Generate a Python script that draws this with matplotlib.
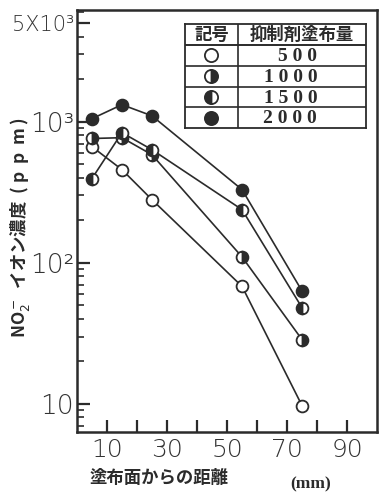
"""
NO2- イオン濃度と塗布面からの距離（抑制剤塗布量別）
"""

import matplotlib
matplotlib.use("Agg")
import matplotlib.pyplot as plt
from matplotlib.ticker import FixedLocator, LogLocator, NullFormatter

JP = ["Noto Sans CJK JP", "DejaVu Sans"]
SERIF = ["Liberation Serif", "DejaVu Serif"]
INK = "#2b2b2b"

# 塗布面からの距離 (mm)
kyori = [5, 15, 25, 55, 75]

# 抑制剤塗布量ごとの NO2- 濃度 (ppm)
no2_500 = [665, 457, 280, 68, 9.7]
no2_1000 = [760, 770, 583, 110, 28.5]
no2_1500 = [395, 836, 633, 238, 48]
no2_2000 = [1050, 1320, 1100, 330, 63]

ryo_labels = ["5 0 0", "1 0 0 0", "1 5 0 0", "2 0 0 0"]

x_ticks = [10, 20, 30, 40, 50, 60, 70, 80, 90]
x_ticklabels = ["10", "", "30", "", "50", "", "70", "", "90"]
y_ticks = [10, 100, 1000, 5000]
y_ticklabels = ["10", "10²", "10³", "5X10³"]

# 記号: 白丸, 右半分黒, 左半分黒, 黒丸
STIL = [
    dict(marker="o", markerfacecolor="white"),
    dict(marker="o", markerfacecolor=INK, fillstyle="right", markerfacecoloralt="white"),
    dict(marker="o", markerfacecolor=INK, fillstyle="left", markerfacecoloralt="white"),
    dict(marker="o", markerfacecolor=INK),
]


def main():
    fig = plt.figure(figsize=(3.79, 4.95), dpi=100)
    ax = fig.add_axes([0.203, 0.127, 0.792, 0.853])

    serier = [no2_500, no2_1000, no2_1500, no2_2000]
    for verdier, stil in zip(serier, STIL):
        ax.plot(kyori, verdier, color=INK, linewidth=1.2, markersize=8.5,
                markeredgecolor=INK, markeredgewidth=1.3, **stil)

    ax.set_yscale("log")
    ax.set_xlim(0, 100)
    ax.set_ylim(6.3, 6200)

    ax.xaxis.set_major_locator(FixedLocator(x_ticks))
    ax.set_xticklabels(x_ticklabels)
    ax.yaxis.set_major_locator(FixedLocator(y_ticks))
    ax.set_yticklabels(y_ticklabels)
    ax.yaxis.set_minor_locator(LogLocator(base=10, subs=range(2, 10)))
    ax.yaxis.set_minor_formatter(NullFormatter())

    ax.tick_params(axis="both", which="major", direction="in", length=9, width=1.6,
                   colors=INK, pad=3)
    ax.tick_params(axis="y", which="minor", direction="in", length=5, width=1.2, colors=INK)
    ax.tick_params(axis="y", which="major", labelsize=19, pad=2)
    ax.tick_params(axis="x", which="major", labelsize=18, pad=4)
    for lab in ax.get_xticklabels() + ax.get_yticklabels():
        lab.set_fontweight("light")
        lab.set_color("#333333")
    # 5X10³ は幅が広いので少し小さく
    ax.get_yticklabels()[-1].set_fontsize(15)
    for sp in ax.spines.values():
        sp.set_linewidth(1.8)
        sp.set_color(INK)

    # akse-tekster
    fig.text(0.052, 0.54, "NO$_2^-$  イオン濃度  ( p  p  m )", rotation=90, ha="center",
             va="center", fontsize=12.5, family=JP, fontweight="bold", color=INK)
    fig.text(0.42, 0.034, "塗布面からの距離", ha="center", va="center",
             fontsize=12.5, family=JP, fontweight="bold", color=INK)
    fig.text(0.82, 0.022, "(mm)", ha="center", va="center", fontsize=12.5,
             family=SERIF, fontweight="bold", color=INK)

    # 記号表
    lg = fig.add_axes([0.488, 0.741, 0.478, 0.210])
    lg.set_xlim(0, 1)
    lg.set_ylim(5, 0)
    lg.set_xticks([])
    lg.set_yticks([])
    for sp in lg.spines.values():
        sp.set_linewidth(1.3)
        sp.set_color(INK)
    lg.axvline(0.293, color=INK, linewidth=1.2)
    for r in range(1, 5):
        lg.axhline(r, color=INK, linewidth=1.2 if r > 1 else 1.4)
    lg.text(0.146, 0.52, "記号", ha="center", va="center", fontsize=12.5,
            family=JP, fontweight="bold", color=INK)
    lg.text(0.646, 0.52, "抑制剤塗布量", ha="center", va="center", fontsize=12.5,
            family=JP, fontweight="bold", color=INK)
    for i, (lab, stil) in enumerate(zip(ryo_labels, STIL)):
        lg.plot([0.146], [i + 1.5], color=INK, markersize=9.5, markeredgecolor=INK,
                markeredgewidth=1.3, linestyle="none", **stil)
        lg.text(0.73, i + 1.55, lab, ha="right", va="center", fontsize=14,
                family=SERIF, fontweight="bold", color=INK)

    fig.savefig("out.png", dpi=100)
    plt.close(fig)


if __name__ == "__main__":
    main()
